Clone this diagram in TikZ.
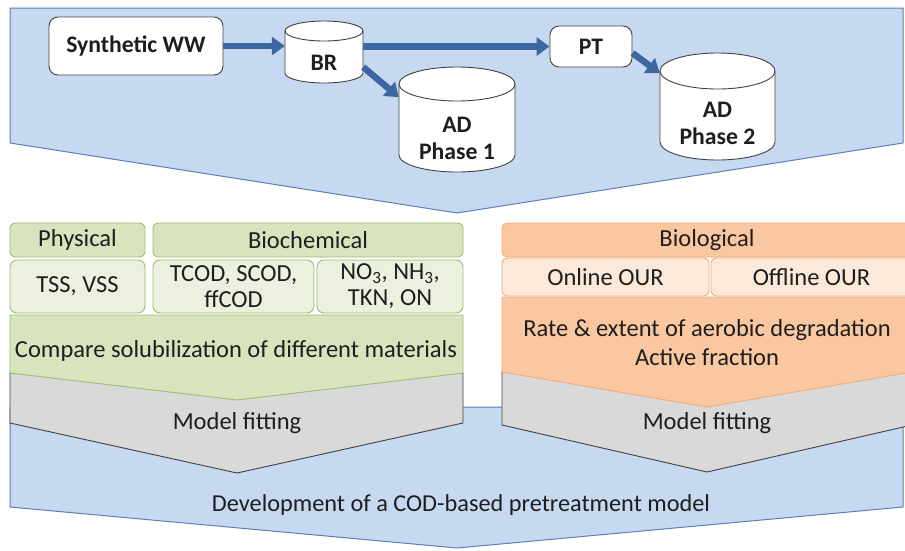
\documentclass[tikz,border=0pt]{standalone}
\usepackage{fontspec}
\setmainfont{Carlito}
\usetikzlibrary{arrows.meta,calc}
\definecolor{bluefill}{RGB}{198,217,241}
\definecolor{blueline}{RGB}{90,128,182}
\definecolor{arrowblue}{RGB}{60,103,160}
\definecolor{greenhead}{RGB}{215,228,189}
\definecolor{greenlight}{RGB}{235,241,222}
\definecolor{greenline}{RGB}{160,188,115}
\definecolor{orangehead}{RGB}{250,200,160}
\definecolor{orangelight}{RGB}{253,233,217}
\definecolor{orangeline}{RGB}{238,172,125}
\definecolor{grayfill}{RGB}{217,217,217}
\definecolor{boxline}{RGB}{64,64,64}
\definecolor{txt}{RGB}{30,30,30}
\newcommand{\drawcyl}[5]{%
  \filldraw[cylstyle] (#1,{#3+#5}) -- (#1,{#4-#5})
    arc[start angle=180,end angle=0,x radius={(#2-#1)/2},y radius=#5]
    -- (#2,{#3+#5})
    arc[start angle=0,end angle=-180,x radius={(#2-#1)/2},y radius=#5] -- cycle;
  \draw[cylstyle,fill=none] (#2,{#3+#5})
    arc[start angle=0,end angle=180,x radius={(#2-#1)/2},y radius=#5];
}
\begin{document}
\begin{tikzpicture}[x=1pt,y=-1pt,
  panel/.style={fill=bluefill,draw=blueline,line width=1pt},
  graych/.style={fill=grayfill,draw=boxline,line width=0.9pt},
  greench/.style={fill=greenhead,draw=greenline,line width=0.9pt},
  orangech/.style={fill=orangehead,draw=orangeline,line width=0.9pt},
  cylstyle/.style={fill=white,draw=boxline,line width=0.9pt},
  boldlbl/.style={font=\fontsize{23.7}{27}\selectfont\bfseries,text=txt,align=center,inner sep=0pt},
  lbl/.style={font=\fontsize{24.5}{26}\selectfont,text=txt,align=center,inner sep=0pt},
  whitebox/.style={draw=boxline,fill=white,rounded corners=9pt,line width=0.9pt,boldlbl},
  shapebox/.style={inner sep=0pt,draw=none,fill=none},
  ghead/.style={draw=greenline,fill=greenhead,rounded corners=5pt,line width=0.9pt,lbl},
  glight/.style={draw=greenline,fill=greenlight,rounded corners=7pt,line width=0.9pt,lbl},
  ohead/.style={draw=orangeline,fill=orangehead,rounded corners=5pt,line width=0.9pt,lbl},
  olight/.style={draw=orangeline,fill=orangelight,rounded corners=5pt,line width=0.9pt,lbl},
  flow/.style={draw=arrowblue,line width=6.5pt,-{Triangle[length=13pt,width=18pt]}}
]
\useasboundingbox (0,0) rectangle (905,550);
\clip (0,0) rectangle (905,550);

% top panel
\path[panel] (10,8) -- (903,8) -- (903,143) -- (457,213) -- (10,143) -- cycle;

% boxes and cylinders of the top panel
\node[whitebox,minimum width=174pt,minimum height=58pt] (sww) at (136,46) {Synthetic WW};
\node[whitebox,minimum width=82pt,minimum height=41pt] (pt) at (591,46.5) {PT};

\drawcyl{285}{363}{21}{83}{10}
\node[shapebox,minimum width=78pt,minimum height=62pt] (br) at (324,52) {};
\node[boldlbl] (brlbl) at (324,63) {BR};

\drawcyl{399}{515}{67}{172}{17}
\node[shapebox,minimum width=116pt,minimum height=105pt] (ad1) at (457,119.5) {};
\node[boldlbl] (ad1lbl) at (457,138) {AD\\Phase 1};

\drawcyl{660}{775}{53}{160}{18}
\node[shapebox,minimum width=115pt,minimum height=107pt] (ad2) at (717.5,106.5) {};
\node[boldlbl] (ad2lbl) at (717.5,123) {AD\\Phase 2};

\draw[flow] (sww.east) -- (sww.east -| br.west);
\draw[flow] (pt.west -| br.east) -- (pt.west);
\draw[flow] (br.-21) -- (ad1.159);
\draw[flow] (pt.-9) -- (ad2.150);

% bottom panel
\path[panel] (10,407) -- (903,407) -- (903,507) -- (457,548) -- (10,507) -- cycle;
\node[lbl,font=\fontsize{24.3}{26}\selectfont] (dev) at (461,505) {Development of a COD-based pretreatment model};

% left column
\path[graych] (10,373) -- (463,373) -- (463,423) -- (237,473) -- (10,423) -- cycle;
\path[greench] (10,315) -- (463,315) -- (463,373) -- (237,400) -- (10,373) -- cycle;
\node[lbl] (fitl) at (237,423) {Model fitting};
\node[lbl] (comp) at (236,351) {Compare solubilization of different materials};

\node[ghead,minimum width=135pt,minimum height=34pt] (phys) at (77.5,240) {Physical};
\node[ghead,minimum width=310pt,minimum height=34pt] (bioc) at (308,240) {Biochemical};
\node[glight,minimum width=135pt,minimum height=53pt] (tss) at (77.5,286.5) {TSS, VSS};
\node[glight,minimum width=161pt,minimum height=53pt] (tcod) at (233.5,286.5) {TCOD, SCOD,\\ffCOD};
\node[glight,minimum width=146pt,minimum height=53pt] (no3) at (390,286.5) {NO\textsubscript{3}, NH\textsubscript{3},\\TKN, ON};

% right column
\path[graych] (502,372) -- (912,372) -- (912,425) -- (707,472) -- (502,425) -- cycle;
\path[orangech] (502,297) -- (912,297) -- (912,372) -- (707,407) -- (502,372) -- cycle;
\node[lbl] (fitr) at (707,423) {Model fitting};
\node[lbl,font=\fontsize{24.5}{29}\selectfont] (rate) at (707,342.5) {Rate \& extent of aerobic degradation\\Active fraction};

\node[ohead,minimum width=410pt,minimum height=34pt] (biol) at (707,240) {Biological};
\node[olight,minimum width=207pt,minimum height=38pt] (onl) at (605.5,277) {Online OUR};
\node[olight,minimum width=201pt,minimum height=38pt] (offl) at (811.5,277) {Offline OUR};
\end{tikzpicture}
\end{document}
